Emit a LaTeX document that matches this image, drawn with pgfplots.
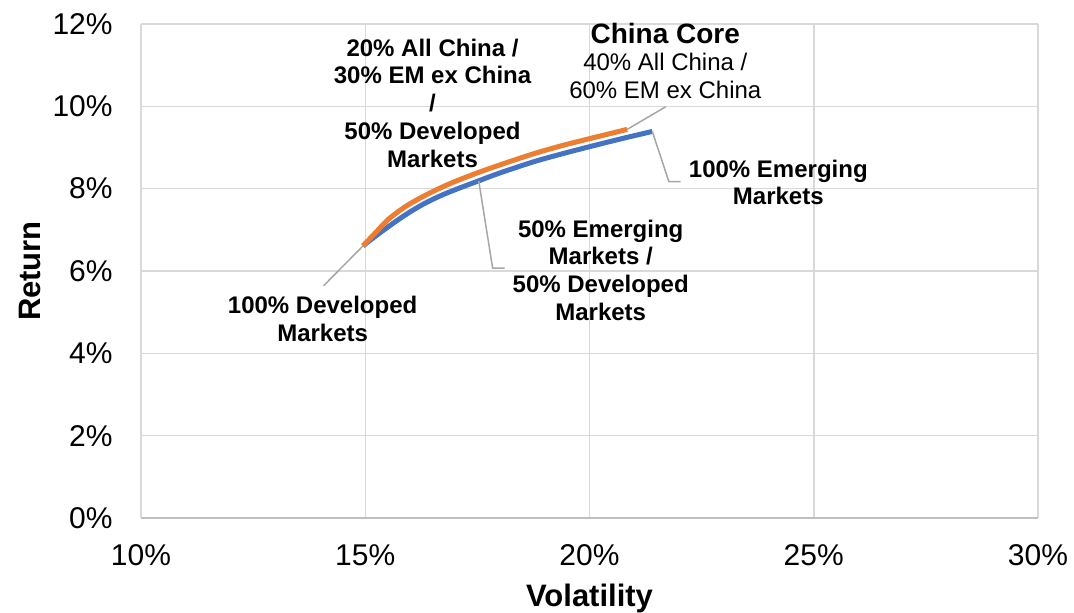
\documentclass[border=0pt]{standalone}
\usepackage{fontspec}
\setmainfont{Liberation Sans}
\usepackage{pgfplots}
\pgfplotsset{compat=1.18}
\definecolor{emblue}{HTML}{4472C4}
\definecolor{coreorange}{HTML}{ED7D31}
\definecolor{gridgrey}{HTML}{D9D9D9}
\definecolor{axisgrey}{HTML}{BFBFBF}
\definecolor{leadergrey}{HTML}{A6A6A6}

\begin{document}
\begin{tikzpicture}
\useasboundingbox (0,0) rectangle (537pt,306pt);
\begin{axis}[
  at={(70.5pt,47pt)}, anchor=south west,
  scale only axis, width=448.5pt, height=247pt,
  xmin=10, xmax=30, ymin=0, ymax=12,
  xtick={10,15,20,25,30}, ytick={0,2,4,6,8,10,12},
  xticklabels={10\%,15\%,20\%,25\%,30\%},
  yticklabels={0\%,2\%,4\%,6\%,8\%,10\%,12\%},
  axis lines*=left,
  axis line style={draw=gridgrey, line width=0.75pt},
  x axis line style={draw=axisgrey},
  grid=major,
  major grid style={draw=gridgrey, line width=0.75pt},
  major tick length=0pt,
  tick label style={font=\fontsize{15}{18}\selectfont, inner sep=0pt},
  xticklabel style={anchor=center, yshift=-18.75pt},
  yticklabel style={anchor=east, xshift=-14pt},
  xlabel={Volatility}, ylabel={Return},
  label style={font=\bfseries\fontsize{15.5}{18}\selectfont},
  xlabel style={at={(axis description cs:0.5,-0.163)}, anchor=center},
  ylabel style={at={(axis description cs:-0.124,0.5)}, anchor=center},
  clip=false,
]
% Emerging / developed frontier
\addplot[emblue, line width=2.5pt, smooth] coordinates {
  (14.95,6.61) (15.22,6.84) (15.52,7.08) (15.89,7.36) (16.27,7.61)
  (16.64,7.81) (16.97,7.96) (17.49,8.175) (18.01,8.385) (18.76,8.655)
  (19.40,8.85) (20.02,9.025) (20.70,9.21) (21.40,9.39)
};
% China Core / developed frontier
\addplot[coreorange, line width=2.5pt, smooth] coordinates {
  (14.95,6.61) (15.22,6.92) (15.52,7.26) (15.89,7.56) (16.27,7.80)
  (16.64,8.00) (16.97,8.16) (17.49,8.38) (18.01,8.58) (18.76,8.85)
  (19.40,9.05) (20.02,9.22) (20.84,9.44)
};

% leader lines
\draw[leadergrey, line width=0.75pt] (axis cs:14.95,6.61) -- (axis cs:14.07,5.64);
\draw[leadergrey, line width=0.75pt] (axis cs:17.53,8.19) -- (axis cs:17.84,6.07) -- (axis cs:18.11,6.07);
\draw[leadergrey, line width=0.75pt] (axis cs:21.40,9.39) -- (axis cs:21.77,8.17) -- (axis cs:22.03,8.17);
\draw[leadergrey, line width=0.75pt] (axis cs:20.84,9.44) -- (axis cs:21.70,9.99);

% point labels
\tikzset{ptlab/.style={font=\bfseries\fontsize{12}{13.9}\selectfont, align=center, inner sep=0pt, anchor=center}}
\node[ptlab] at (axis cs:16.50,10.08) {20\% All China /\\30\% EM ex China\\/\\50\% Developed\\Markets};
\node[ptlab] at (axis cs:24.21,8.15) {100\% Emerging\\Markets};
\node[ptlab] at (axis cs:20.25,6.02) {50\% Emerging\\Markets /\\50\% Developed\\Markets};
\node[ptlab] at (axis cs:14.05,4.83) {100\% Developed\\Markets};
\node[font=\bfseries\fontsize{14}{16}\selectfont, inner sep=0pt, anchor=base] at (axis cs:21.69,11.53) {China Core};
\node[font=\fontsize{12}{14}\selectfont, inner sep=0pt, anchor=base] at (axis cs:21.69,10.87) {40\% All China /};
\node[font=\fontsize{12}{14}\selectfont, inner sep=0pt, anchor=base] at (axis cs:21.69,10.19) {60\% EM ex China};
\end{axis}
\end{tikzpicture}
\end{document}
